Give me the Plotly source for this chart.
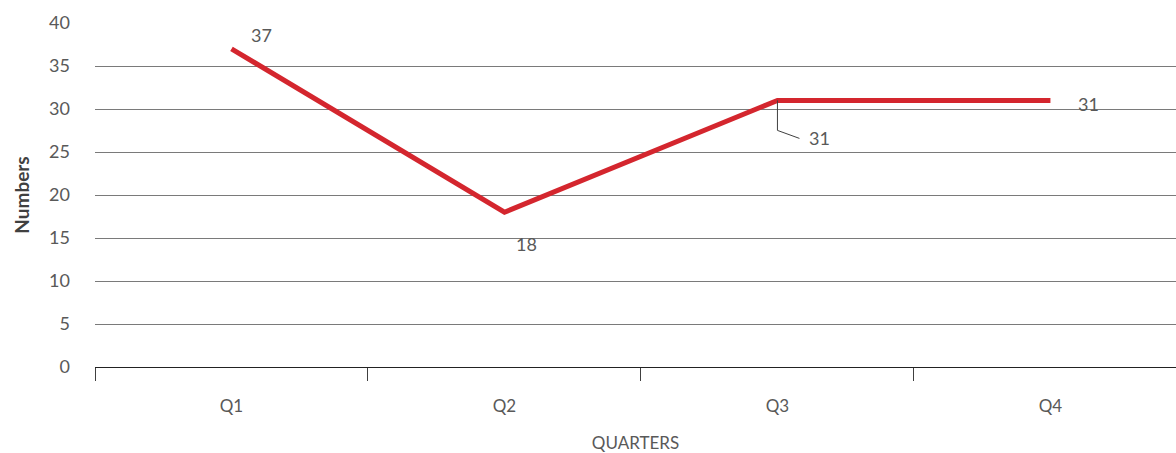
import plotly.graph_objects as go

quarters = ["Q1", "Q2", "Q3", "Q4"]
numbers = [37, 18, 31, 31]
y_ticks = [0, 5, 10, 15, 20, 25, 30, 35, 40]

LINE_RED = "#D4262E"
TEXT_GREY = "#595959"
FONT = "Lato, 'Open Sans', sans-serif"

fig = go.Figure()
fig.add_trace(go.Scatter(
    x=list(range(len(quarters))),
    y=numbers,
    mode="lines",
    line=dict(color=LINE_RED, width=5),
    hoverinfo="skip",
    showlegend=False,
))

# value labels (pixel offsets from each point)
label_offsets = [(30, 14), (22, -32), (42, -38), (38, -4)]
for i, (v, (dx, dy)) in enumerate(zip(numbers, label_offsets)):
    fig.add_annotation(
        x=i, y=v, xref="x", yref="y", text=str(v), showarrow=False,
        xshift=dx, yshift=dy, font=dict(size=18, color=TEXT_GREY, family=FONT),
    )

# bent leader line for the Q3 label
fig.add_shape(
    type="path", xref="x", yref="y",
    xsizemode="pixel", ysizemode="pixel",
    xanchor=2, yanchor=numbers[2],
    path="M0,0 L0,-30 L22,-38",
    line=dict(color="#404040", width=1),
)

fig.update_layout(
    width=1176, height=453,
    margin=dict(l=95, r=0, t=23, b=86),
    paper_bgcolor="white", plot_bgcolor="white",
    font=dict(family=FONT, color=TEXT_GREY),
    xaxis=dict(
        range=[-0.5, 3.46],
        tickmode="array",
        tickvals=list(range(len(quarters))),
        ticktext=quarters,
        showgrid=False,
        zeroline=False,
        showline=False,
        ticks="",
        tickfont=dict(size=17, color=TEXT_GREY, family=FONT),
        ticklabelstandoff=27,
        title=dict(text="QUARTERS", font=dict(size=17, color=TEXT_GREY, family=FONT), standoff=22),
        fixedrange=True,
    ),
    xaxis2=dict(
        overlaying="x", range=[-0.5, 3.46], tickmode="array",
        tickvals=[-0.5, 0.5, 1.5, 2.5, 3.5],
        showticklabels=False, showgrid=False, zeroline=False,
        showline=False, ticks="outside", ticklen=13, tickwidth=1,
        tickcolor="#404040", anchor="y", side="bottom",
    ),
    yaxis=dict(
        range=[0, 40],
        tickmode="array",
        tickvals=y_ticks,
        showgrid=True,
        gridcolor="#7a7a7a",
        gridwidth=1,
        zeroline=True,
        zerolinecolor="#222222",
        zerolinewidth=1,
        showline=False,
        ticks="",
        tickfont=dict(size=18, color=TEXT_GREY, family=FONT),
        ticklabelstandoff=24,
        title=dict(text="<b>Numbers</b>", font=dict(size=19, color="#404040", family=FONT), standoff=14),
        fixedrange=True,
    ),
)

# invisible trace to draw the category boundary ticks on the overlay axis
fig.add_trace(go.Scatter(x=[0], y=[0], xaxis="x2", mode="markers",
                         marker=dict(opacity=0), hoverinfo="skip", showlegend=False))

fig.write_html("out.html")
